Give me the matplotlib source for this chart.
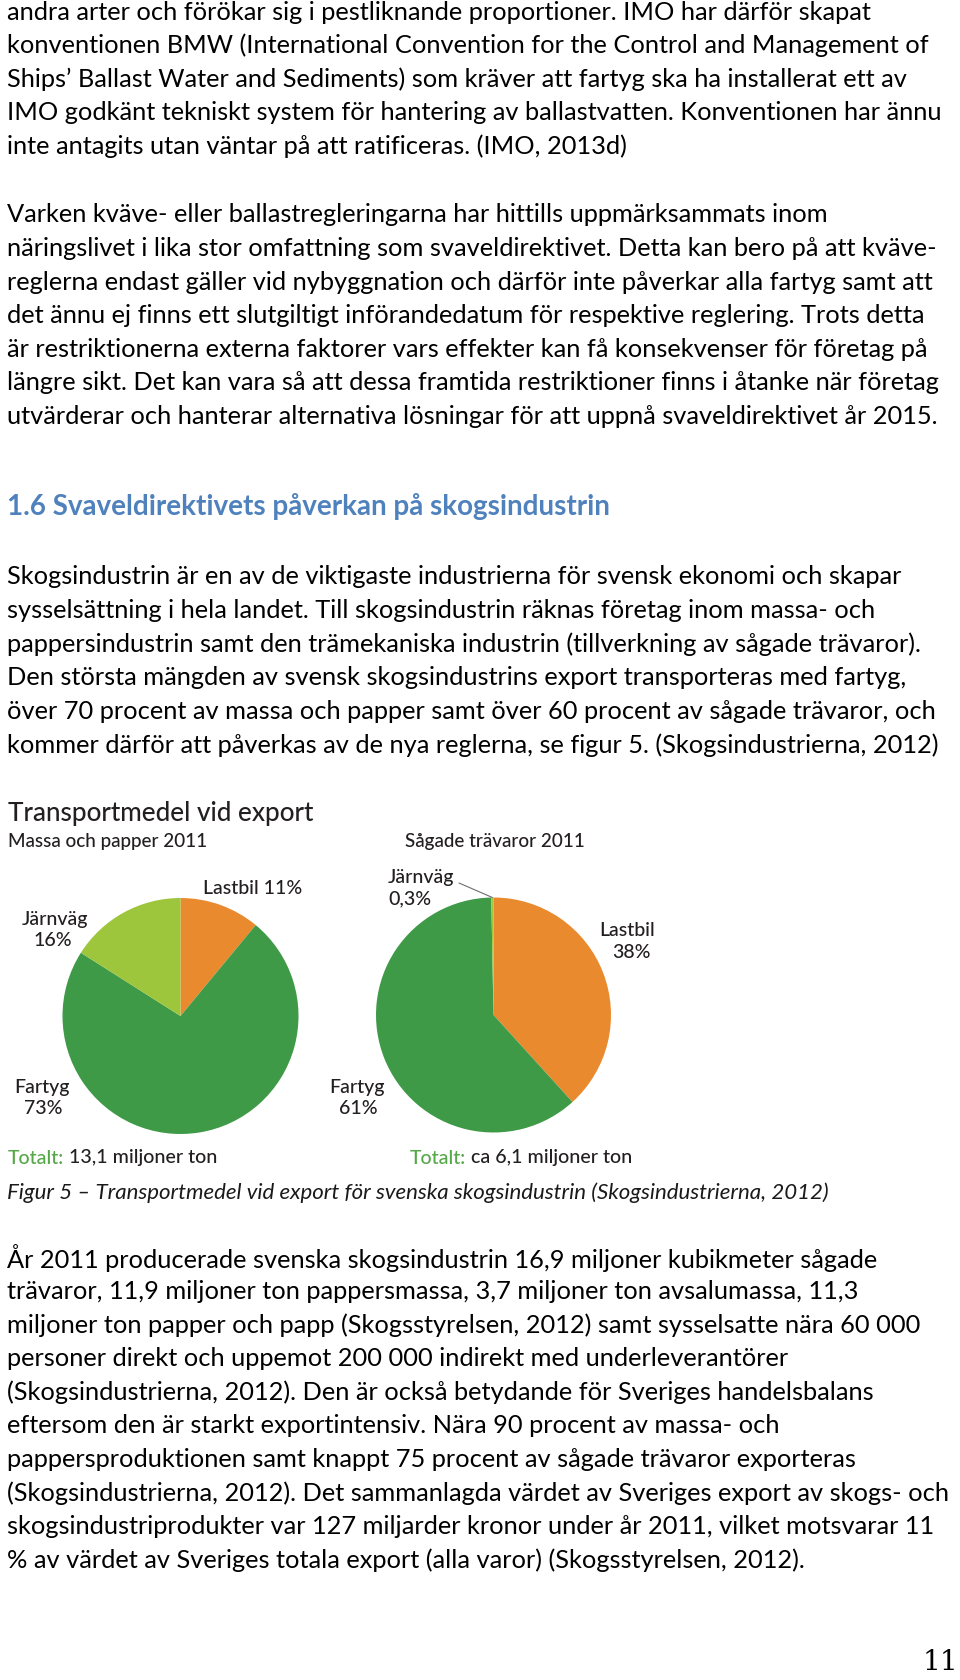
import math
import matplotlib
matplotlib.use('Agg')
import matplotlib.pyplot as plt

# ---------------- data ----------------
modes = ['Lastbil', 'Fartyg', 'Järnväg']
pulp_share = [11, 73, 16]          # Massa och papper 2011 (%)
sawn_share = [38, 61, 0.3]         # Sågade trävaror 2011 (%)
pulp_total = '13,1'
sawn_total = 'ca 6,1'

para1 = [
    "andra arter och förökar sig i pestliknande proportioner. IMO har därför skapat",
    "konventionen BMW (International Convention for the Control and Management of",
    "Ships’ Ballast Water and Sediments) som kräver att fartyg ska ha installerat ett av",
    "IMO godkänt tekniskt system för hantering av ballastvatten. Konventionen har ännu",
    "inte antagits utan väntar på att ratificeras. (IMO, 2013d)",
]
para2 = [
    "Varken kväve- eller ballastregleringarna har hittills uppmärksammats inom",
    "näringslivet i lika stor omfattning som svaveldirektivet. Detta kan bero på att kväve-",
    "reglerna endast gäller vid nybyggnation och därför inte påverkar alla fartyg samt att",
    "det ännu ej finns ett slutgiltigt införandedatum för respektive reglering. Trots detta",
    "är restriktionerna externa faktorer vars effekter kan få konsekvenser för företag på",
    "längre sikt. Det kan vara så att dessa framtida restriktioner finns i åtanke när företag",
    "utvärderar och hanterar alternativa lösningar för att uppnå svaveldirektivet år 2015.",
]
heading = "1.6 Svaveldirektivets påverkan på skogsindustrin"
para3 = [
    "Skogsindustrin är en av de viktigaste industrierna för svensk ekonomi och skapar",
    "sysselsättning i hela landet. Till skogsindustrin räknas företag inom massa- och",
    "pappersindustrin samt den trämekaniska industrin (tillverkning av sågade trävaror).",
    "Den största mängden av svensk skogsindustrins export transporteras med fartyg,",
    "över 70 procent av massa och papper samt över 60 procent av sågade trävaror, och",
    "kommer därför att påverkas av de nya reglerna, se figur 5. (Skogsindustrierna, 2012)",
]
caption = "Figur 5 – Transportmedel vid export för svenska skogsindustrin (Skogsindustrierna, 2012)"
para4 = [
    "År 2011 producerade svenska skogsindustrin 16,9 miljoner kubikmeter sågade",
    "trävaror, 11,9 miljoner ton pappersmassa, 3,7 miljoner ton avsalumassa, 11,3",
    "miljoner ton papper och papp (Skogsstyrelsen, 2012) samt sysselsatte nära 60 000",
    "personer direkt och uppemot 200 000 indirekt med underleverantörer",
    "(Skogsindustrierna, 2012). Den är också betydande för Sveriges handelsbalans",
    "eftersom den är starkt exportintensiv. Nära 90 procent av massa- och",
    "pappersproduktionen samt knappt 75 procent av sågade trävaror exporteras",
    "(Skogsindustrierna, 2012). Det sammanlagda värdet av Sveriges export av skogs- och",
    "skogsindustriprodukter var 127 miljarder kronor under år 2011, vilket motsvarar 11",
    "% av värdet av Sveriges totala export (alla varor) (Skogsstyrelsen, 2012).",
]
chart_title = "Transportmedel vid export"
pulp_sub = "Massa och papper 2011"
sawn_sub = "Sågade trävaror 2011"
page_no = "11"

# ---------------- styles ----------------
ORANGE = '#EA8A2F'
DKGREEN = '#3F9A48'
LTGREEN = '#9DC63C'
TOTGREEN = '#55A847'
CHART_TXT = '#231F20'
HEAD_BLUE = '#4F81BD'
BODY = 'Lato'
CHART = 'Lato'
CW = 'medium'
colors = [ORANGE, DKGREEN, LTGREEN]

W, H = 960, 1680
fig = plt.figure(figsize=(9.6, 16.8), dpi=100)
fig.patch.set_facecolor('white')
renderer = fig.canvas.get_renderer()


def fx(x):
    return x / W


def fy(y):
    return 1 - y / H


def put(x, y, s, fs, **kw):
    kw.setdefault('va', 'center')
    return fig.text(fx(x), fy(y), s, fontsize=fs, **kw)


def width_px(s, fs, **kw):
    t = fig.text(0, 0, s, fontsize=fs, **kw)
    w = t.get_window_extent(renderer).width
    t.remove()
    return w


def fit_size(s, target, **kw):
    return 20 * target / width_px(s, 20, **kw)


def fmt(v):
    return (str(v) if v != int(v) else str(int(v))).replace('.', ',')


# ---------------- body text ----------------
LEFT = 7
all_lines = para1 + para2 + para3 + para4
fs_body = min(fit_size(s, 946, family=BODY) for s in all_lines)
step = 33.55


def paragraph(lines, y0):
    for i, s in enumerate(lines):
        put(LEFT, y0 + i * step, s, fs_body, family=BODY, color='black')


paragraph(para1, 12)
paragraph(para2, 215)
fs_head = fit_size(heading, 601, family=BODY, weight='bold')
put(LEFT, 507, heading, fs_head, family=BODY, weight='bold', color=HEAD_BLUE)
paragraph(para3, 577)
fs_cap = fit_size(caption, 822, family=BODY, style='italic')
put(LEFT, 1193, caption, fs_cap, family=BODY, style='italic', color='#1a1a1a')
paragraph(para4, 1258)
put(958, 1663, page_no, fs_body * 1.1, family='DejaVu Serif', ha='right', color='black')

# ---------------- chart ----------------
ck = dict(family=CHART, weight=CW, color=CHART_TXT)
fs_title = fit_size(chart_title, 307, family=CHART, weight=CW)
put(8, 813, chart_title, fs_title, **ck)
fs_sub = fit_size(pulp_sub, 200, family=CHART, weight=CW)
put(8, 842, pulp_sub, fs_sub, **ck)
put(405, 842, sawn_sub, fs_sub, **ck)


def pie_axes(cx, cy, r):
    ax = fig.add_axes([fx(cx - r), fy(cy + r), 2 * r / W, 2 * r / H])
    ax.set_aspect('equal')
    ax.axis('off')
    return ax


ax1 = pie_axes(180.5, 1016, 118)
ax1.pie(pulp_share, colors=colors, startangle=90, counterclock=False,
        radius=1, wedgeprops=dict(linewidth=0))
ax1.set_xlim(-1, 1)
ax1.set_ylim(-1, 1)

ax2 = pie_axes(493.5, 1015, 117.5)
ax2.pie(sawn_share, colors=colors, startangle=90, counterclock=False,
        radius=1, wedgeprops=dict(linewidth=0))
ax2.set_xlim(-1, 1)
ax2.set_ylim(-1, 1)

lab1 = f"{modes[0]} {fmt(pulp_share[0])}%"
fs_lab = fit_size(lab1, 99, family=CHART, weight=CW)

# pie 1 labels
put(203, 889, lab1, fs_lab, **ck)
put(55, 919, modes[2], fs_lab, ha='center', **ck)
put(53, 940, f"{fmt(pulp_share[2])}%", fs_lab, ha='center', **ck)
put(42, 1088, modes[1], fs_lab, ha='center', **ck)
put(43, 1109, f"{fmt(pulp_share[1])}%", fs_lab, ha='center', **ck)

# pie 2 labels
put(388, 878, modes[2], fs_lab, **ck)
put(388, 899, f"{fmt(sawn_share[2])}%", fs_lab, **ck)
put(627, 931, modes[0], fs_lab, ha='center', **ck)
put(631, 952, f"{fmt(sawn_share[0])}%", fs_lab, ha='center', **ck)
put(357, 1088, modes[1], fs_lab, ha='center', **ck)
put(358, 1109, f"{fmt(sawn_share[1])}%", fs_lab, ha='center', **ck)

# leader line to the thin Järnväg slice
tot2 = sum(sawn_share)
ang = math.radians(90 + sawn_share[2] / tot2 * 360 / 2)
ax2.annotate('', xy=(math.cos(ang), math.sin(ang)), xycoords='data',
             xytext=(459, H - 883), textcoords='figure pixels',
             arrowprops=dict(arrowstyle='-', color='#6d6e71', lw=0.8,
                             shrinkA=0, shrinkB=0),
             annotation_clip=False)


# totals
def totals(x, y, value, target):
    rest = f" {value} miljoner ton"
    fs = fit_size("Totalt:" + rest, target, family=CHART, weight=CW)
    t = put(x, y, "Totalt:", fs, family=CHART, weight=CW, color=TOTGREEN)
    w = t.get_window_extent(renderer).width
    put(x + w, y, rest, fs, **ck)


totals(8, 1158, pulp_total, 209)
totals(410, 1158, sawn_total, 222)

fig.savefig('out.png', dpi=100, facecolor='white')
